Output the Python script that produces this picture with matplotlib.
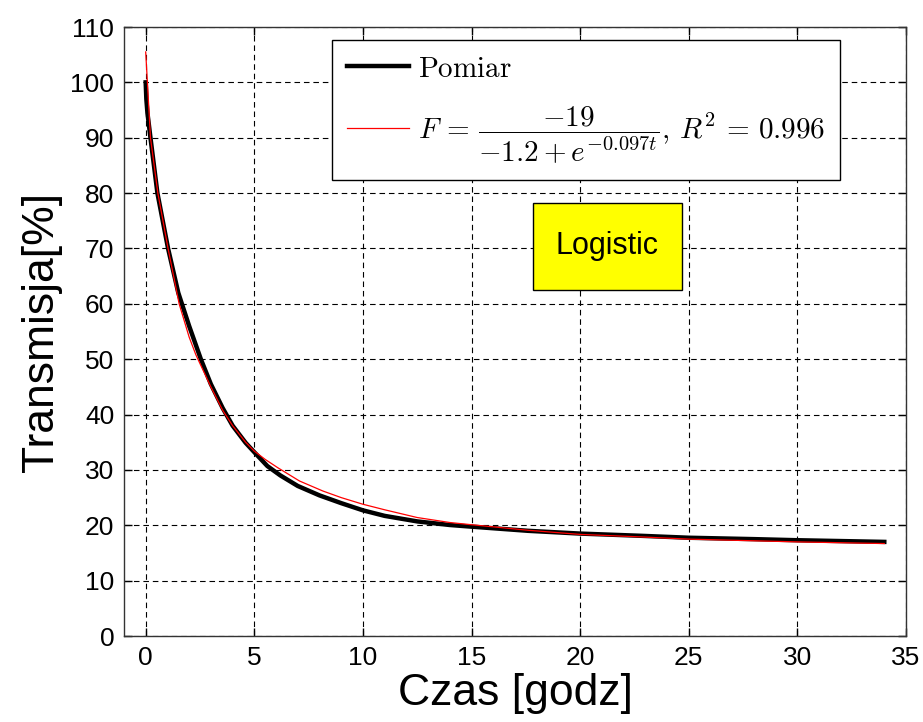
import numpy as np
import matplotlib
matplotlib.use('Agg')
import matplotlib.pyplot as plt
from matplotlib.patches import Rectangle

plt.rcParams['font.family'] = ['Liberation Sans', 'DejaVu Sans']
plt.rcParams['mathtext.fontset'] = 'cm'

# pomiar
t_pomiar = [0, 0.03, 0.08, 0.22, 0.54, 1.03, 1.5, 2.0, 2.54, 3.0, 3.54, 4.0, 4.6, 5.0,
            5.6, 6.2, 7.0, 8.0, 9.0, 10, 11, 12.5, 14, 15, 17.6, 20, 22.8, 25, 28, 30, 32, 34]
T_pomiar = [100, 97, 94.5, 90, 80, 70, 62, 56, 50, 45.5, 41.2, 38.0, 34.9, 33.2,
            30.7, 29.0, 27.1, 25.4, 24.0, 22.7, 21.7, 20.7, 20.05, 19.75, 19.0, 18.5, 18.1,
            17.75, 17.5, 17.3, 17.15, 17.0]

# dopasowanie logistyczne
t_fit = [0, 0.08, 0.22, 0.56, 1.03, 1.54, 2.0, 2.31, 3.0, 3.54, 4.0, 4.6, 5.0, 5.5,
         6.08, 7.08, 8.15, 9.0, 10, 11, 12.5, 14, 15, 17.6, 20, 22.8, 25, 28, 30, 32, 34]
T_fit = [105.5, 100, 90, 80, 70, 60, 54, 50.8, 45.0, 40.8, 38.0, 35.0, 33.4, 31.9,
         30.4, 28.0, 26.2, 25.0, 23.8, 22.8, 21.4, 20.5, 20.1, 19.1, 18.35, 17.9,
         17.5, 17.2, 17.0, 16.85, 16.7]

fig = plt.figure(figsize=(9.23, 7.22), dpi=100)
ax = fig.add_axes([0.1343, 0.1191, 0.8473, 0.8435])

ax.plot(t_pomiar, T_pomiar, color='black', linewidth=3.2, label=r'$\mathrm{Pomiar}$')
ax.plot(t_fit, T_fit, color='red', linewidth=0.9,
        label=r'$F\,=\,\dfrac{-19}{-1.2+e^{-0.097t}},\, R^2\,=\,0.996$')

ax.set_xlim(-1, 35)
ax.set_ylim(0, 110)
ax.set_xticks(np.arange(0, 36, 5))
ax.set_yticks(np.arange(0, 111, 10))
ax.tick_params(direction='in', length=6, width=1, top=True, right=True,
               labelsize=19, pad=7)
ax.grid(True, color='black', linestyle=(0, (5, 3.5)), linewidth=0.8)
for s in ax.spines.values():
    s.set_linewidth(1)
    s.set_color('#333333')

ax.set_xlabel('Czas [godz]', fontsize=32, labelpad=2)
ax.set_ylabel('Transmisja[%]', fontsize=32, labelpad=6)

leg = ax.legend(loc='upper right', bbox_to_anchor=(0.9156, 0.9787), borderaxespad=0,
                fontsize=21, fancybox=False, framealpha=1, edgecolor='black',
                handlelength=2.15, borderpad=0.5, labelspacing=0.75, handletextpad=0.3)
leg.get_frame().set_linewidth(1)

ax.add_patch(Rectangle((0.523, 0.568), 0.1906, 0.143, transform=ax.transAxes,
                       facecolor='yellow', edgecolor='black', linewidth=1, zorder=5))
ax.text(0.618, 0.640, 'Logistic', transform=ax.transAxes, fontsize=22,
        ha='center', va='center', zorder=6)

fig.savefig('out.png', dpi=100)
